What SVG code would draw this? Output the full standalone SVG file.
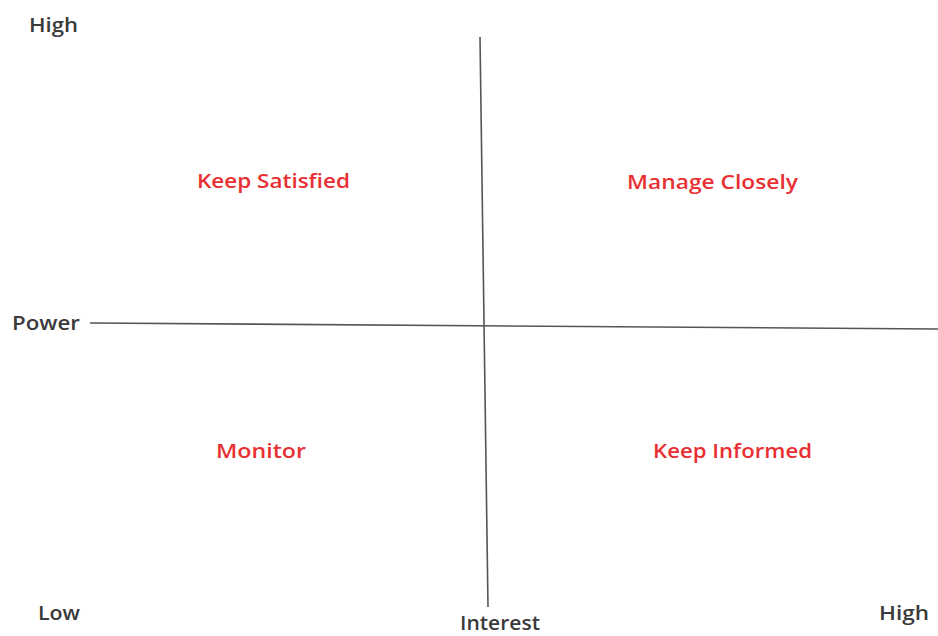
<svg xmlns="http://www.w3.org/2000/svg" width="938" height="636" viewBox="0 0 938 636">
<style>
.ax{font-family:"Open Sans","Liberation Sans",sans-serif;font-size:20px;font-weight:600;fill:#3a3a3a}
.q{font-family:"Open Sans","Liberation Sans",sans-serif;font-size:20px;font-weight:600;fill:#e83032}
.ln{stroke:#555;stroke-width:1.6;fill:none}
</style>
<rect width="938" height="636" fill="#fff"/>
<g id="connectors">
<line class="ln" x1="480" y1="37" x2="488" y2="607"/>
<line class="ln" x1="90" y1="323" x2="938" y2="329"/>
</g>
<g id="axis-labels">
<text class="ax" x="29" y="32" textLength="49" lengthAdjust="spacingAndGlyphs">High</text>
<text class="ax" x="12" y="330" textLength="68" lengthAdjust="spacingAndGlyphs">Power</text>
<text class="ax" x="38" y="620" textLength="42" lengthAdjust="spacingAndGlyphs">Low</text>
<text class="ax" x="460" y="630" font-size="19" textLength="80" lengthAdjust="spacingAndGlyphs">Interest</text>
<text class="ax" x="879" y="620" textLength="50" lengthAdjust="spacingAndGlyphs">High</text>
</g>
<g id="keep-satisfied"><text class="q" x="197" y="188" textLength="153" lengthAdjust="spacingAndGlyphs">Keep Satisfied</text></g>
<g id="manage-closely"><text class="q" x="627" y="189" textLength="171" lengthAdjust="spacingAndGlyphs">Manage Closely</text></g>
<g id="monitor"><text class="q" x="216" y="458" textLength="90" lengthAdjust="spacingAndGlyphs">Monitor</text></g>
<g id="keep-informed"><text class="q" x="653" y="458" textLength="159" lengthAdjust="spacingAndGlyphs">Keep Informed</text></g>
</svg>
